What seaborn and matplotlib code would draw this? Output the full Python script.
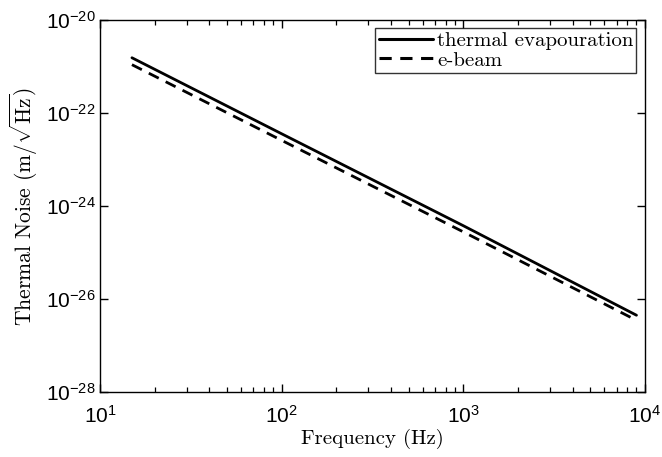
import numpy as np
import pandas as pd
import matplotlib
matplotlib.use("Agg")
import matplotlib.pyplot as plt
import matplotlib.ticker as mticker
import seaborn as sns

# Data
freq = [15, 100, 1000, 9000]
thermal_evap = [1.55e-21, 3.6e-23, 3.8e-25, 4.5e-27]
ebeam = [1.1e-21, 2.6e-23, 2.8e-25, 3.5e-27]
series_names = ["thermal evapouration", "e-beam"]
x_limits = [1e1, 1e4]
y_limits = [1e-28, 1e-20]

df = pd.DataFrame({
    "Frequency": freq * 2,
    "Noise": thermal_evap + ebeam,
    "Series": [series_names[0]] * len(freq) + [series_names[1]] * len(freq),
})

sns.set_style("ticks")
rc = plt.rcParams
rc["mathtext.fontset"] = "cm"
rc["font.family"] = ["Liberation Sans", "DejaVu Sans"]
rc["axes.unicode_minus"] = False
rc["text.color"] = "black"
rc["axes.labelcolor"] = "black"
rc["axes.edgecolor"] = "black"

fig = plt.figure(figsize=(6.62, 4.57), dpi=100)
ax = fig.add_axes([0.151, 0.142, 0.823, 0.814])

sns.lineplot(data=df, x="Frequency", y="Noise", style="Series",
             style_order=series_names,
             dashes={series_names[0]: "", series_names[1]: (4, 2.8)},
             color="black", linewidth=2.0, ax=ax, legend=True)

ax.set_xscale("log")
ax.set_yscale("log")
ax.set_xlim(*x_limits)
ax.set_ylim(*y_limits)
ax.xaxis.set_major_locator(mticker.LogLocator(base=10))
ax.xaxis.set_minor_locator(mticker.LogLocator(base=10, subs=np.arange(2, 10), numticks=20))
ax.yaxis.set_major_locator(mticker.LogLocator(base=100))
ax.yaxis.set_minor_locator(mticker.NullLocator())
ax.xaxis.set_major_formatter(mticker.LogFormatterSciNotation(base=10))
ax.yaxis.set_major_formatter(mticker.LogFormatterSciNotation(base=10))

ax.tick_params(which="both", direction="in", top=True, right=True, bottom=True, left=True,
               color="black", labelcolor="black")
ax.tick_params(which="major", length=6, width=1.0, labelsize=15)
ax.tick_params(which="minor", length=3.5, width=0.9)
ax.tick_params(axis="x", which="major", pad=9)
ax.tick_params(axis="y", which="major", pad=3)

for s in ax.spines.values():
    s.set_visible(True)
    s.set_color("black")
    s.set_linewidth(1.0)

ax.set_xlabel("Frequency (Hz)", fontsize=15, family="cmr10", labelpad=2)
ax.set_ylabel(r"Thermal Noise (m/$\sqrt{\mathrm{Hz}}$)", fontsize=15.5, family="cmr10", labelpad=4)

leg = ax.legend(loc="upper right", prop={"family": "cmr10", "size": 15},
                frameon=True, fancybox=False, edgecolor="black",
                borderpad=0.15, handlelength=2.6, handletextpad=0.2, labelspacing=0.05,
                borderaxespad=0.4)
leg.get_frame().set_linewidth(1.0)
for line in leg.get_lines():
    line.set_linewidth(2.2)

fig.savefig("out.png", dpi=100)
